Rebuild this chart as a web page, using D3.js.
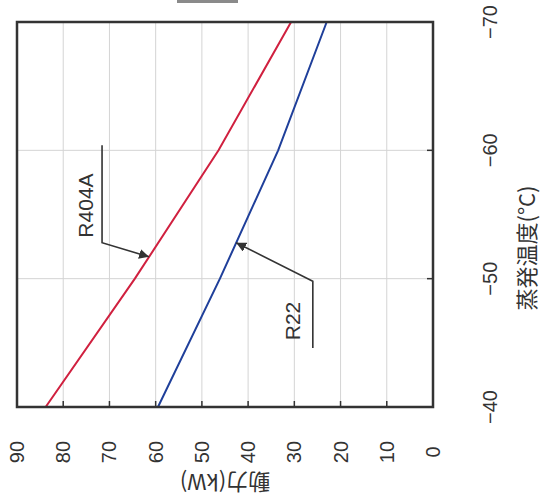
<!DOCTYPE html>
<html>
<head>
<meta charset="utf-8">
<script src="https://cdn.jsdelivr.net/npm/d3@7"></script>
<style>
  body { margin: 0; background: #fff; }
  svg { display: block; }
  .grid line { stroke: #d4d4d4; stroke-width: 1; }
  .frame { fill: none; stroke: #333; stroke-width: 2.5; }
  .tick-label { font-family: "Liberation Sans", Arial, sans-serif; font-size: 20px; fill: #333; }
  .title { font-family: "Noto Sans CJK JP", sans-serif; font-size: 22px; fill: #333; }
  .series { fill: none; stroke-width: 2; }
  .leader { fill: none; stroke: #333; stroke-width: 1.6; }
  .series-label { font-family: "Liberation Sans", Arial, sans-serif; font-size: 21px; fill: #333; }
</style>
</head>
<body>
<svg id="chart" width="541" height="501"></svg>
<script>
// evaporation temperature (°C) and power (kW)
var temps = [-40, -50, -60, -70];
var r404a = [83.8, 64.5, 46.4, 30.7];
var r22 = [59.5, 46.1, 33.5, 23.0];
var powerTicks = [0, 10, 20, 30, 40, 50, 60, 70, 80, 90];
var tempTicks = [-40, -50, -60, -70];

var svg = d3.select('#chart');

// the chart is printed turned a quarter turn: power runs right-to-left, temperature bottom-to-top
var x = d3.scaleLinear().domain([0, 90]).range([433, 17]);
var y = d3.scaleLinear().domain([-40, -70]).range([407, 22]);

// small grey mark cut off at the top edge
svg.append('rect')
    .attr('x', 177).attr('y', 0).attr('width', 61).attr('height', 3)
    .attr('fill', '#8a8a8a');

// grid
var grid = svg.append('g').classed('grid', true);
grid.selectAll('.vx')
    .data(powerTicks.slice(1, -1))
  .enter().append('line')
    .attr('x1', x).attr('x2', x)
    .attr('y1', y(-70)).attr('y2', y(-40));
grid.selectAll('.hy')
    .data(tempTicks.slice(1, -1))
  .enter().append('line')
    .attr('x1', x(90)).attr('x2', x(0))
    .attr('y1', y).attr('y2', y);

// inner tick marks along bottom and right frame
var ticks = svg.append('g');
ticks.selectAll('.tb')
    .data(powerTicks.slice(1, -1))
  .enter().append('line')
    .attr('x1', x).attr('x2', x)
    .attr('y1', y(-40)).attr('y2', y(-40) - 6)
    .attr('stroke', '#333').attr('stroke-width', 1.5);
ticks.selectAll('.tr')
    .data(tempTicks.slice(1, -1))
  .enter().append('line')
    .attr('x1', x(0)).attr('x2', x(0) - 6)
    .attr('y1', y).attr('y2', y)
    .attr('stroke', '#333').attr('stroke-width', 1.5);

// series
var line = d3.line()
    .x(function(d) { return x(d[1]); })
    .y(function(d) { return y(d[0]); });

svg.append('path')
    .datum(d3.zip(temps, r404a))
    .classed('series', true)
    .attr('stroke', '#d0203f')
    .attr('d', line);

svg.append('path')
    .datum(d3.zip(temps, r22))
    .classed('series', true)
    .attr('stroke', '#1f3f9a')
    .attr('d', line);

// frame
svg.append('rect')
    .classed('frame', true)
    .attr('x', x(90)).attr('y', y(-70))
    .attr('width', x(0) - x(90))
    .attr('height', y(-40) - y(-70));

// power tick labels (rotated)
svg.selectAll('.pl')
    .data(powerTicks)
  .enter().append('text')
    .classed('tick-label', true)
    .attr('text-anchor', 'middle')
    .attr('dominant-baseline', 'central')
    .attr('transform', function(d) { return 'translate(' + x(d) + ',452) rotate(-90)'; })
    .text(function(d) { return d; });

// temperature tick labels
svg.selectAll('.tl')
    .data(tempTicks)
  .enter().append('text')
    .classed('tick-label', true)
    .attr('text-anchor', 'middle')
    .attr('dominant-baseline', 'central')
    .attr('transform', function(d) { return 'translate(490,' + y(d) + ') rotate(-90)'; })
    .text(function(d) { return '\u2212' + Math.abs(d); });

// axis titles
svg.append('text')
    .classed('title', true)
    .attr('text-anchor', 'middle')
    .attr('dominant-baseline', 'central')
    .attr('transform', 'translate(' + x(45) + ',484) rotate(180)')
    .text('動力(kW)');

svg.append('text')
    .classed('title', true)
    .attr('text-anchor', 'middle')
    .attr('dominant-baseline', 'central')
    .attr('transform', 'translate(525,248) rotate(-90)')
    .text('蒸発温度(°C)');

// arrow head
svg.append('defs').append('marker')
    .attr('id', 'arrow')
    .attr('viewBox', '0 0 10 10')
    .attr('refX', 10).attr('refY', 5)
    .attr('markerWidth', 10).attr('markerHeight', 10)
    .attr('orient', 'auto')
    .attr('markerUnits', 'userSpaceOnUse')
  .append('path')
    .attr('d', 'M0,0 L10,5 L0,10 z')
    .attr('fill', '#333');

function valueAt(series, t) {
    return d3.scaleLinear().domain(temps).range(series)(t);
}

// R404A leader: vertical stem, elbow, arrow to the curve
var a = [[-60.4, 71.6], [-52.8, 71.6], [-51.7, valueAt(r404a, -51.7)]];
svg.append('path')
    .classed('leader', true)
    .attr('marker-end', 'url(#arrow)')
    .attr('d', line(a));
svg.append('text')
    .classed('series-label', true)
    .attr('text-anchor', 'middle')
    .attr('dominant-baseline', 'central')
    .attr('transform', 'translate(' + x(75.2) + ',' + y(-55.7) + ') rotate(-90)')
    .text('R404A');

// R22 leader
var b = [[-44.6, 26], [-49.8, 26], [-52.8, valueAt(r22, -52.8)]];
svg.append('path')
    .classed('leader', true)
    .attr('marker-end', 'url(#arrow)')
    .attr('d', line(b));
svg.append('text')
    .classed('series-label', true)
    .attr('text-anchor', 'middle')
    .attr('dominant-baseline', 'central')
    .attr('transform', 'translate(' + x(30.4) + ',' + y(-46.7) + ') rotate(-90)')
    .text('R22');
</script>
</body>
</html>
